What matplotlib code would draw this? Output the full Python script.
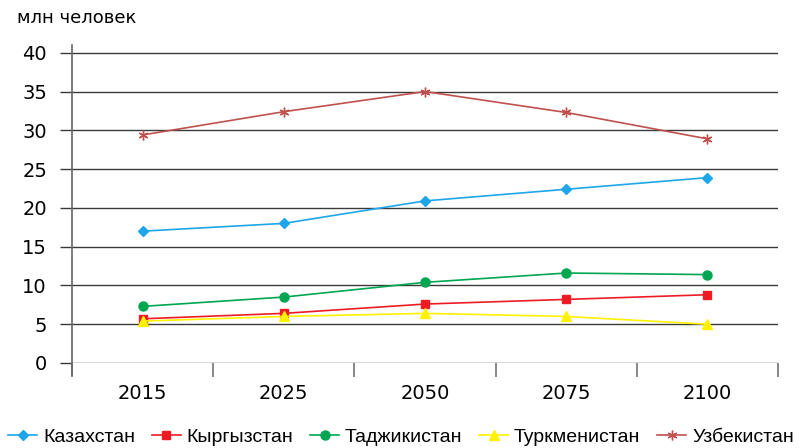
import matplotlib
matplotlib.use("Agg")
import matplotlib.pyplot as plt
import numpy as np

years = ["2015", "2025", "2050", "2075", "2100"]
kazakhstan = [17.0, 18.0, 20.9, 22.4, 23.9]
kyrgyzstan = [5.7, 6.4, 7.6, 8.2, 8.8]
tajikistan = [7.3, 8.5, 10.4, 11.6, 11.4]
turkmenistan = [5.4, 6.0, 6.4, 6.0, 5.0]
uzbekistan = [29.4, 32.4, 35.0, 32.3, 28.9]
yticks = [0, 5, 10, 15, 20, 25, 30, 35, 40]

series = [
    ("Казахстан", kazakhstan, "#1ea6e8", "D", 5),
    ("Кыргызстан", kyrgyzstan, "#ed1c24", "s", 6),
    ("Таджикистан", tajikistan, "#00a651", "o", 6.5),
    ("Туркменистан", turkmenistan, "#fff200", "^", 7),
    ("Узбекистан", uzbekistan, "#c0504d", (6, 2, 0), 7),
]

fig = plt.figure(figsize=(8.02, 4.48), dpi=100)
ax = fig.add_axes([72/802, 1-363/448, (778-72)/802, (363-45)/448])

x = np.arange(len(years))
for name, vals, col, mk, ms in series:
    ax.plot(x, vals, color=col, lw=1.2, marker=mk, markersize=ms,
            markeredgecolor=col, markerfacecolor=col, label=name, zorder=3)

ax.set_xlim(-0.5, 4.5)
ax.set_ylim(0, 41)
ax.set_yticks(yticks)
ax.set_yticklabels([str(v) for v in yticks], fontsize=14, family="DejaVu Sans")
ax.set_xticks(x)
ax.set_xticklabels(years, fontsize=14, family="DejaVu Sans")
ax.set_xticks(np.arange(-0.5, 5, 1), minor=True)
ax.tick_params(axis="x", which="major", length=0, pad=15)
ax.tick_params(axis="x", which="minor", length=10, width=1.1, color="#666666")
ax.tick_params(axis="y", which="major", length=9, width=1.0, color="#3a3a3a", pad=9)

for v in yticks:
    ax.axhline(v, color="#3a3a3a", lw=1.0, zorder=1)

for s in ["top", "right", "bottom"]:
    ax.spines[s].set_visible(False)
ax.spines["left"].set_color("#666666")
ax.spines["left"].set_linewidth(1.2)
ax.spines["left"].set_bounds(-1.6, 41)
ax.spines["left"].set_clip_on(False)

fig.text(17/802, 1-18/448, "млн человек", fontsize=13, family="DejaVu Sans",
         ha="left", va="center")

leg = fig.legend(loc="center", bbox_to_anchor=(0.5, 1-437/448), ncol=5,
                 frameon=False, prop={"family": "Liberation Sans", "size": 14},
                 handlelength=1.5, handletextpad=0.3, columnspacing=0.85,
                 borderaxespad=0, borderpad=0)

fig.savefig("out.png", dpi=100)
